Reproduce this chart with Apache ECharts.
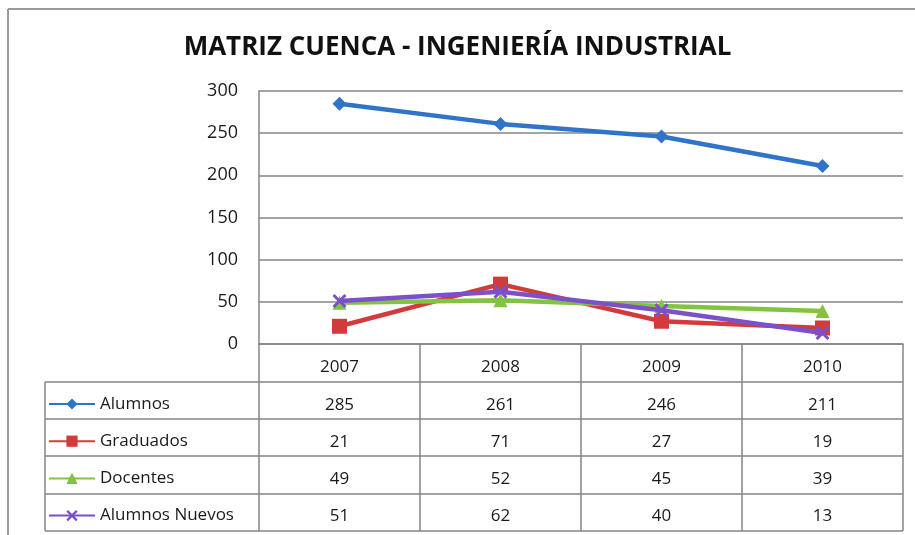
<!DOCTYPE html>
<html>
<head>
<meta charset="utf-8">
<script src="https://cdn.jsdelivr.net/npm/echarts@6/dist/echarts.min.js"></script>
<style>
  html, body { margin: 0; padding: 0; background: #fff; }
  #chart { width: 915px; height: 535px; }
</style>
</head>
<body>
<div id="chart"></div>
<script>
var years = ['2007', '2008', '2009', '2010'];
var names = ['Alumnos', 'Graduados', 'Docentes', 'Alumnos Nuevos'];
var alumnos = [285, 261, 246, 211];
var graduados = [21, 71, 27, 19];
var docentes = [49, 52, 45, 39];
var nuevos = [51, 62, 40, 13];
var rows = [alumnos, graduados, docentes, nuevos];

var colors = ['#2f74c9', '#d23b3b', '#82c341', '#7b50c8'];
var xMark = 'path://M0,1.5L1.5,0L5,3.5L8.5,0L10,1.5L6.5,5L10,8.5L8.5,10L5,6.5L1.5,10L0,8.5L3.5,5Z';
var symbols = ['diamond', 'rect', 'triangle', xMark];

var font = '"Open Sans", "Noto Sans", sans-serif';
var ink = '#1a1a1a';
var rule = '#858585';

// geometría de la tabla (px)
var plotLeft = 259, plotRight = 903, plotTop = 91, zeroY = 344;
var rowH = 37.2, legendLeft = 45;
var headerBottom = 382;
var tableBottom = headerBottom + rowH * rows.length;

var chart = echarts.init(document.getElementById('chart'));

var graphics = [
  { type: 'line', shape: { x1: 8, y1: 9, x2: 915, y2: 9 }, style: { stroke: '#9a9a9a', lineWidth: 2 } },
  { type: 'line', shape: { x1: 8, y1: 9, x2: 8, y2: 535 }, style: { stroke: '#9a9a9a', lineWidth: 2 } },
  { type: 'line', shape: { x1: legendLeft, y1: headerBottom, x2: legendLeft, y2: tableBottom }, style: { stroke: rule, lineWidth: 1.5 } }
];
for (var r = 0; r <= rows.length; r++) {
  var yy = Math.round(headerBottom + r * rowH);
  graphics.push({ type: 'line', shape: { x1: legendLeft, y1: yy, x2: plotRight, y2: yy }, style: { stroke: rule, lineWidth: 1.5 } });
}

chart.setOption({
  animation: false,
  title: {
    text: 'MATRIZ CUENCA - INGENIERÍA INDUSTRIAL',
    left: 'center', top: 30,
    textStyle: { fontFamily: font, fontSize: 26, fontWeight: 'bold', color: '#111' }
  },
  legend: {
    orient: 'vertical',
    left: legendLeft - 2, top: headerBottom + 7,
    itemWidth: 46, itemHeight: 14, itemGap: rowH - 20,
    textStyle: { fontFamily: font, fontSize: 17, color: ink, lineHeight: 20 },
    data: names
  },
  grid: { left: plotLeft, right: 915 - plotRight, top: plotTop, bottom: 535 - zeroY },
  xAxis: {
    type: 'category', data: years, boundaryGap: true,
    axisLine: { lineStyle: { color: rule, width: 1.5 } },
    axisTick: { show: true, length: Math.round(tableBottom - zeroY), lineStyle: { color: rule, width: 1.5 } },
    axisLabel: {
      interval: 0, margin: 5,
      fontFamily: font, fontSize: 17, color: ink, lineHeight: rowH,
      formatter: function (v, i) {
        return [v].concat(rows.map(function (s) { return s[i]; })).join('\n');
      }
    }
  },
  yAxis: {
    type: 'value', min: 0, max: 300, interval: 50,
    axisLine: { show: true, lineStyle: { color: rule, width: 1.5 } },
    axisTick: { show: false },
    axisLabel: { margin: 21, fontFamily: font, fontSize: 18, color: ink },
    splitLine: { lineStyle: { color: rule, width: 1.5 } }
  },
  series: names.map(function (n, k) {
    return {
      name: n, type: 'line', data: rows[k],
      symbol: symbols[k], symbolSize: k === 1 ? 15 : 14,
      color: colors[k],
      lineStyle: { width: 4.5, color: colors[k] },
      itemStyle: { color: colors[k] },
      z: 3 + k
    };
  }),
  graphic: graphics
});
</script>
</body>
</html>
